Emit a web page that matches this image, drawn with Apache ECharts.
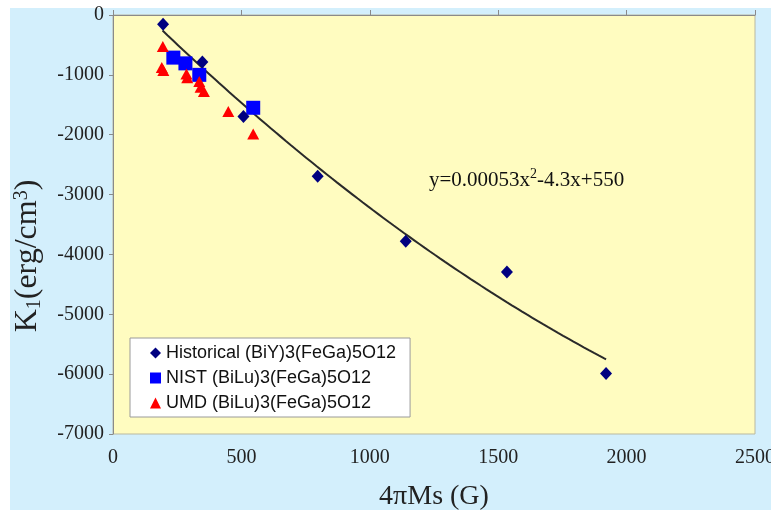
<!DOCTYPE html>
<html>
<head>
<meta charset="utf-8">
<script src="https://cdn.jsdelivr.net/npm/echarts@6/dist/echarts.min.js"></script>
<style>
  html, body { margin: 0; padding: 0; background: #ffffff; }
  #chart { width: 771px; height: 510px; }
</style>
</head>
<body>
<div id="chart"></div>
<script>
// ---- Data ----
var historicalX = [195, 348, 508, 797, 1140, 1534, 1920];
var historicalY = [-155, -787, -1695, -2695, -3778, -4295, -5990];

var nistX = [235, 282, 336, 546];
var nistY = [-712, -808, -1000, -1550];

var umdX = [194, 190, 196, 286, 289, 336, 341, 354, 449, 546];
var umdY = [-528, -878, -928, -985, -1050, -1112, -1205, -1278, -1612, -1988];

var seriesNames = ['Historical (BiY)3(FeGa)5O12', 'NIST (BiLu)3(FeGa)5O12', 'UMD (BiLu)3(FeGa)5O12'];

// Trendline shown on the chart: y = 0.00053x^2 - 4.3x + 550
var trendCoef = [0.00053, -4.3, 550];
var trendRange = [193, 1920];

var xTicks = [0, 500, 1000, 1500, 2000, 2500];
var yTicks = [-7000, -6000, -5000, -4000, -3000, -2000, -1000, 0];

function pairs(xs, ys) {
  var out = [];
  for (var i = 0; i < xs.length; i++) out.push([xs[i], ys[i]]);
  return out;
}
function trendAt(x) { return trendCoef[0] * x * x + trendCoef[1] * x + trendCoef[2]; }
var trendData = [];
for (var x = trendRange[0]; x < trendRange[1]; x += 20) trendData.push([x, trendAt(x)]);
trendData.push([trendRange[1], trendAt(trendRange[1])]);

var serif = '"Liberation Serif", "Times New Roman", serif';
var sans = '"Liberation Sans", Arial, sans-serif';

var chart = echarts.init(document.getElementById('chart'), null, { renderer: 'canvas' });
chart.setOption({
  backgroundColor: 'transparent',
  animation: false,
  graphic: [
    { type: 'rect', z: -100, silent: true, shape: { x: 10, y: 8, width: 761, height: 502 }, style: { fill: '#d3effc' } },
    {
      type: 'text', left: 429, top: 167, z: 50,
      style: {
        text: '{a|y=0.00053x}{s|2}{a|-4.3x+550}',
        rich: {
          a: { fontFamily: serif, fontSize: 21, fill: '#111', verticalAlign: 'bottom', lineHeight: 24 },
          s: { fontFamily: serif, fontSize: 14, fill: '#111', verticalAlign: 'top', lineHeight: 24, padding: [0, 0, 10, 0] }
        }
      }
    },
    {
      type: 'text', x: 28, y: 256, rotation: Math.PI / 2, z: 50,
      style: {
        text: '{a|K}{b|1}{a|(erg/cm}{c|3}{a|)}',
        align: 'center', verticalAlign: 'middle',
        rich: {
          a: { fontFamily: serif, fontSize: 32, fill: '#222', lineHeight: 36 },
          b: { fontFamily: serif, fontSize: 20, fill: '#222', lineHeight: 36, padding: [13, 0, 0, 0] },
          c: { fontFamily: serif, fontSize: 20, fill: '#222', lineHeight: 36, padding: [0, 0, 13, 0] }
        }
      }
    }
  ],
  grid: {
    left: 113, right: 16, top: 15, bottom: 76,
    outerBoundsMode: 'none', containLabel: false,
    show: true, backgroundColor: '#fffcc0', borderColor: '#b9b9a0', borderWidth: 1
  },
  legend: {
    orient: 'vertical', left: 130, top: 338,
    data: [
      { name: seriesNames[0], icon: 'diamond' },
      { name: seriesNames[1], icon: 'rect' },
      { name: seriesNames[2], icon: 'triangle' }
    ],
    itemWidth: 11, itemHeight: 11, itemGap: 5,
    padding: [5, 14, 4, 20],
    backgroundColor: '#ffffff', borderColor: '#9a9a9a', borderWidth: 1,
    textStyle: { fontFamily: sans, fontSize: 18, color: '#111', lineHeight: 20 }
  },
  xAxis: {
    type: 'value', min: 0, max: 2500, interval: 500,
    axisLine: { show: true, lineStyle: { color: '#8a8a8a', width: 1 } },
    axisTick: { show: true, inside: true, length: 5, lineStyle: { color: '#8a8a8a' } },
    splitLine: { show: false },
    axisLabel: { fontFamily: serif, fontSize: 20, color: '#222', margin: 14,
      formatter: function (v) { return xTicks.indexOf(v) >= 0 ? String(v) : ''; } },
    name: '4πMs (G)', nameLocation: 'middle', nameGap: 49,
    nameTextStyle: { fontFamily: serif, fontSize: 28, color: '#222' }
  },
  yAxis: {
    type: 'value', min: -7000, max: 0, interval: 1000,
    axisLine: { show: true, lineStyle: { color: '#8a8a8a', width: 1 } },
    axisTick: { show: true, inside: false, length: 4, lineStyle: { color: '#8a8a8a' } },
    splitLine: { show: false },
    axisLabel: { fontFamily: serif, fontSize: 20, color: '#222', margin: 9,
      formatter: function (v) { return yTicks.indexOf(v) >= 0 ? String(v) : ''; } }
  },
  series: [
    {
      name: 'trend', type: 'line', data: trendData, showSymbol: false, smooth: false,
      lineStyle: { color: '#2a2a2a', width: 2 }, z: 1, silent: true
    },
    {
      name: seriesNames[0], type: 'scatter', data: pairs(historicalX, historicalY),
      symbol: 'diamond', symbolSize: [12, 13], itemStyle: { color: '#000080', opacity: 1 }, z: 3
    },
    {
      name: seriesNames[1], type: 'scatter', data: pairs(nistX, nistY),
      symbol: 'rect', symbolSize: 14, itemStyle: { color: '#0000ff', opacity: 1 }, z: 2
    },
    {
      name: seriesNames[2], type: 'scatter', data: pairs(umdX, umdY),
      symbol: 'triangle', symbolSize: [12, 11], itemStyle: { color: '#ff0000', opacity: 1 }, z: 4
    }
  ]
});
</script>
</body>
</html>
